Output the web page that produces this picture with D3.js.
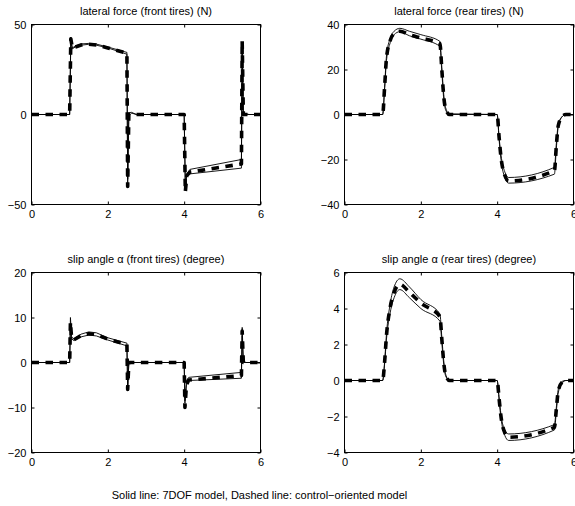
<!DOCTYPE html>
<html>
<head>
<meta charset="utf-8">
<script src="https://cdn.jsdelivr.net/npm/d3@7"></script>
<style>
  html, body { margin: 0; padding: 0; background: #fff; }
  svg { display: block; }
  text { font-family: "Liberation Sans", Arial, Helvetica, sans-serif; fill: #000; }
</style>
</head>
<body>
<svg id="chart" width="575" height="506"></svg>
<script>
// ---------------- DATA ----------------
// Panel 1: lateral force (front tires) (N)
const lfFrontT      = [0, 1.0, 1.03, 1.07, 1.15, 1.3, 1.5, 1.7, 2.0, 2.5, 2.52, 2.55, 2.62, 2.75, 4.0, 4.03, 4.07, 4.15, 5.5, 5.52, 5.55, 5.6, 5.7, 6];
const lfFrontDashed = [0, 0, 42, 37, 37.5, 38.6, 39, 38.6, 37, 34, -40, 0, 0, 0, 0, -43, -34, -32, -27.5, 41, 0, 0, 0, 0];
const lfFrontSolidA = [0, 0, 43, 37, 38, 39.2, 39.5, 39.1, 37.5, 34.5, -38, 1, 1.2, 0, 0, -40, -33, -30.5, -25, 40, 1, 0.5, 0, 0];
const lfFrontSolidB = [0, 0, 40, 36.5, 37.5, 38.5, 39, 38.5, 37, 33.5, -36, -1, 0.8, 0, 0, -38, -34, -33, -29.8, 38, 0, 0, 0, 0];
const lfFrontYTicks = [-50, 0, 50];

// Panel 2: lateral force (rear tires) (N)
const lfRearT      = [0, 1.0, 1.05, 1.1, 1.2, 1.3, 1.45, 1.7, 2.0, 2.5, 2.55, 2.6, 2.65, 2.75, 4.0, 4.05, 4.1, 4.2, 4.3, 5.5, 5.55, 5.6, 5.7, 5.8, 6];
const lfRearDashed = [0, 0, 12, 25, 33, 36, 37, 35.5, 34, 31.5, 20, 8, 2.5, 0, 0, -10, -19, -27, -29.5, -25, -14, -5, -1, 0, 0];
const lfRearSolidA = [0, 0, 12, 26, 34, 37, 38.3, 37, 35.5, 32.5, 21, 9, 3, 0.3, 0, -10, -18, -25.5, -28, -23.5, -13, -4.5, -1, 0, 0];
const lfRearSolidB = [0, 0, 11, 24, 32, 35.5, 36.8, 35, 33.5, 30.3, 19, 7, 2, 0, 0, -11, -20, -28, -30.5, -26.5, -15, -5.5, -1, 0, 0];
const lfRearYTicks = [-40, -20, 0, 20, 40];

// Panel 3: slip angle α (front tires) (degree)
const saFrontT      = [0, 1.0, 1.02, 1.05, 1.1, 1.3, 1.5, 1.7, 2.0, 2.5, 2.52, 2.55, 2.65, 4.0, 4.02, 4.06, 4.12, 5.5, 5.52, 5.55, 5.62, 6];
const saFrontDashed = [0, 0, 9, 5.5, 5, 6.0, 6.4, 6.2, 5.2, 4, -6, 0, 0, 0, -10, -5, -3.9, -2.9, 7, 0, 0, 0];
const saFrontSolidA = [0, 0, 10, 5.8, 5.2, 6.3, 6.8, 6.6, 5.5, 4.3, -6.3, 0.2, 0, 0, -9, -4, -3.3, -2.2, 7.8, 0.3, 0, 0];
const saFrontSolidB = [0, 0, 8, 5.3, 4.9, 5.7, 6.1, 5.9, 5.0, 3.7, -5.5, -0.2, 0, 0, -8.5, -5, -4.0, -3.5, 6, 0, 0, 0];
const saFrontYTicks = [-20, -10, 0, 10, 20];

// Panel 4: slip angle α (rear tires) (degree)
const saRearT      = [0, 1.0, 1.05, 1.1, 1.2, 1.3, 1.45, 1.7, 2.0, 2.5, 2.55, 2.6, 2.65, 2.75, 4.0, 4.05, 4.1, 4.2, 4.3, 5.5, 5.55, 5.6, 5.7, 5.8, 6];
const saRearDashed = [0, 0, 1.0, 2.5, 4.1, 4.9, 5.35, 4.9, 4.3, 3.55, 2.3, 1.0, 0.3, 0, 0, -1.0, -2.0, -2.9, -3.15, -2.6, -1.6, -0.6, -0.1, 0, 0];
const saRearSolidA = [0, 0, 1.0, 2.6, 4.3, 5.2, 5.65, 5.2, 4.5, 3.7, 2.4, 1.1, 0.35, 0, 0, -0.9, -1.9, -2.75, -2.97, -2.45, -1.5, -0.5, -0.05, 0, 0];
const saRearSolidB = [0, 0, 0.9, 2.3, 3.8, 4.6, 5.05, 4.6, 4.0, 3.3, 2.1, 0.9, 0.25, 0, 0, -1.1, -2.1, -3.05, -3.33, -2.75, -1.7, -0.7, -0.15, 0, 0];
const saRearYTicks = [-4, -2, 0, 2, 4, 6];

const xTicks = [0, 2, 4, 6];
const titles = [
  "lateral force (front tires) (N)",
  "lateral force (rear tires) (N)",
  "slip angle \u03b1 (front tires) (degree)",
  "slip angle \u03b1 (rear tires) (degree)"
];
const caption = "Solid line: 7DOF model, Dashed line: control\u2212oriented model";

// ---------------- LAYOUT ----------------
const svg = d3.select("#chart");
const boxW = 229, boxH = 180;
const panels = [
  { x: 31.5,  y: 24.5,  t: lfFrontT, d: lfFrontDashed, a: lfFrontSolidA, b: lfFrontSolidB, yt: lfFrontYTicks, curve: d3.curveLinear },
  { x: 344.5, y: 24.5,  t: lfRearT,  d: lfRearDashed,  a: lfRearSolidA,  b: lfRearSolidB,  yt: lfRearYTicks,  curve: d3.curveMonotoneX },
  { x: 31.5,  y: 272.5, t: saFrontT, d: saFrontDashed, a: saFrontSolidA, b: saFrontSolidB, yt: saFrontYTicks, curve: d3.curveLinear },
  { x: 344.5, y: 272.5, t: saRearT,  d: saRearDashed,  a: saRearSolidA,  b: saRearSolidB,  yt: saRearYTicks,  curve: d3.curveMonotoneX }
];

panels.forEach((p, i) => {
  const g = svg.append("g").attr("transform", `translate(${p.x},${p.y})`);
  const x = d3.scaleLinear().domain([xTicks[0], xTicks[xTicks.length - 1]]).range([0, boxW]);
  const y = d3.scaleLinear().domain([p.yt[0], p.yt[p.yt.length - 1]]).range([boxH, 0]);

  const fmt = d3.format("");
  const styleAxis = sel => {
    sel.select(".domain").remove();
    sel.selectAll("line").attr("stroke", "#000");
    sel.selectAll("text").style("font-size", "11px")
      .style("font-family", '"Liberation Sans", Arial, sans-serif');
  };

  g.append("g").attr("transform", `translate(0,${boxH})`)
    .call(d3.axisBottom(x).tickValues(xTicks).tickSize(-3).tickPadding(6).tickFormat(fmt))
    .call(styleAxis);
  g.append("g")
    .call(d3.axisTop(x).tickValues(xTicks).tickSize(-3).tickFormat(""))
    .call(styleAxis);
  g.append("g")
    .call(d3.axisLeft(y).tickValues(p.yt).tickSize(-3).tickPadding(5).tickFormat(fmt))
    .call(styleAxis);
  g.append("g").attr("transform", `translate(${boxW},0)`)
    .call(d3.axisRight(y).tickValues(p.yt).tickSize(-3).tickFormat(""))
    .call(styleAxis);

  const line = d3.line().x(d => x(d[0])).y(d => y(d[1])).curve(p.curve);
  const pts = arr => p.t.map((t, k) => [t, arr[k]]);

  g.append("path").attr("d", line(pts(p.d)))
    .attr("fill", "none").attr("stroke", "#000").attr("stroke-width", 3.6)
    .attr("stroke-dasharray", "7.5,6.5").attr("stroke-linejoin", "round");
  g.append("path").attr("d", line(pts(p.a)))
    .attr("fill", "none").attr("stroke", "#000").attr("stroke-width", 0.9);
  g.append("path").attr("d", line(pts(p.b)))
    .attr("fill", "none").attr("stroke", "#000").attr("stroke-width", 0.9);

  g.append("rect").attr("x", 0).attr("y", 0).attr("width", boxW).attr("height", boxH)
    .attr("fill", "none").attr("stroke", "#000").attr("stroke-width", 1);

  g.append("text").attr("x", boxW / 2).attr("y", -10)
    .attr("text-anchor", "middle").style("font-size", "11px")
    .text(titles[i]);
});

svg.append("text").attr("x", 259.5).attr("y", 499)
  .attr("text-anchor", "middle").style("font-size", "11px")
  .text(caption);
</script>
</body>
</html>
